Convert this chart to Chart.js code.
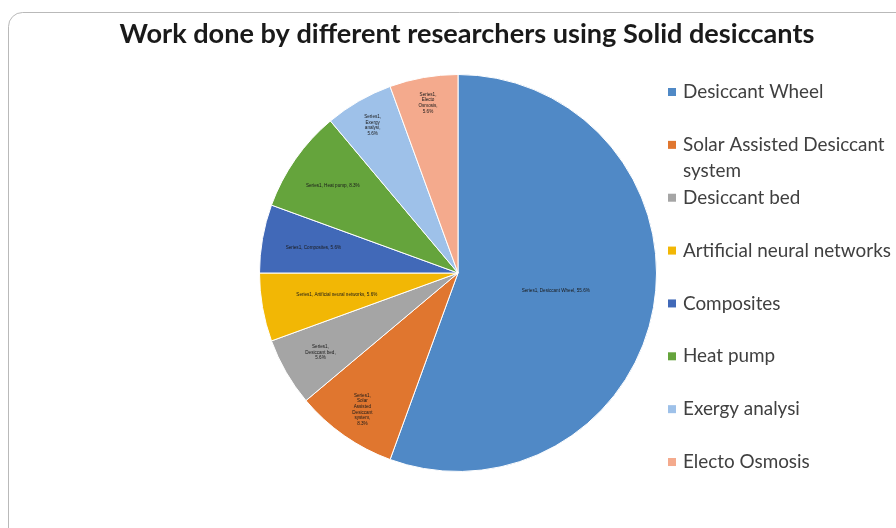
<!DOCTYPE html>
<html><head><meta charset="utf-8">
<script src="https://cdn.jsdelivr.net/npm/chart.js@4/dist/chart.umd.min.js"></script>
<style>html,body{margin:0;padding:0;background:#fff;}#wrap{width:896px;height:528px;position:relative}</style>
</head><body><div id="wrap"><canvas id="c" width="896" height="528"></canvas></div>
<script>
const chartTitle = 'Work done by different researchers using Solid desiccants';
const seriesName = 'Series1';
const categories = ['Desiccant Wheel', 'Solar Assisted Desiccant system', 'Desiccant bed', 'Artificial neural networks', 'Composites', 'Heat pump', 'Exergy analysi', 'Electo Osmosis'];
const values = [20, 3, 2, 2, 2, 3, 2, 2];
const colors = ['#5089c6', '#e0762f', '#a5a5a5', '#f2b705', '#4169b8', '#65a43c', '#9ec1e9', '#f4aa8d'];

// label layout style (not data)
const labelWrap = [null, 22, 36, null, null, null, 22, 22];
const labelRadius = [0.5, 0.84, 0.8, 0.62, 0.74, 0.77, 0.86, 0.87];

function wrapText(ctx, text, maxW) {
  if (!maxW) return [text];
  const words = text.split(' ');
  const lines = [];
  let cur = '';
  for (const w of words) {
    const t = cur ? cur + ' ' + w : w;
    if (ctx.measureText(t).width <= maxW || !cur) {
      if (!cur && ctx.measureText(w).width > maxW) {
        // break long word by characters
        let part = '';
        for (const ch of w) {
          if (ctx.measureText(part + ch).width > maxW && part) { lines.push(part); part = ch; }
          else part += ch;
        }
        cur = part;
      } else cur = t;
    } else {
      lines.push(cur);
      if (ctx.measureText(w).width > maxW) {
        let part = '';
        for (const ch of w) {
          if (ctx.measureText(part + ch).width > maxW && part) { lines.push(part); part = ch; }
          else part += ch;
        }
        cur = part;
      } else cur = w;
    }
  }
  if (cur) lines.push(cur);
  return lines;
}

const framePlugin = {
  id: 'frame',
  beforeDraw(chart) {
    const ctx = chart.ctx;
    ctx.save();
    ctx.fillStyle = '#fff';
    ctx.fillRect(0, 0, chart.width, chart.height);
    ctx.strokeStyle = '#b9b9b9';
    ctx.lineWidth = 1;
    const x = 8.5, y = 12.5, w = 920, h = 540, r = 14;
    ctx.beginPath();
    ctx.moveTo(x + r, y);
    ctx.lineTo(x + w, y);
    ctx.moveTo(x, y + r);
    ctx.lineTo(x, y + h);
    ctx.moveTo(x, y + r);
    ctx.arcTo(x, y, x + r, y, r);
    ctx.stroke();
    ctx.restore();
  }
};

const titlePlugin = {
  id: 'customTitle',
  afterDraw(chart) {
    const ctx = chart.ctx;
    ctx.save();
    let size = 25;
    ctx.font = `bold ${size}px Lato`;
    const w = ctx.measureText(chartTitle).width;
    size = size * 695 / w;
    ctx.font = `bold ${size}px Lato`;
    ctx.fillStyle = '#1a1a1a';
    ctx.textAlign = 'center';
    ctx.textBaseline = 'alphabetic';
    ctx.fillText(chartTitle, 467, 43);
    ctx.restore();
  }
};

const legendPlugin = {
  id: 'customLegend',
  afterDraw(chart) {
    const ctx = chart.ctx;
    ctx.save();
    let size = 16;
    ctx.font = `${size}px Lato`;
    const w = ctx.measureText('Artificial neural networks').width;
    size = size * 208 / w;
    ctx.font = `${size}px Lato`;
    ctx.textBaseline = 'middle';
    ctx.textAlign = 'left';
    const ds = chart.data.datasets[0];
    chart.data.labels.forEach((lab, i) => {
      const yc = 92 + i * 52.86;
      ctx.fillStyle = ds.backgroundColor[i];
      ctx.fillRect(668, yc - 4, 8, 8);
      ctx.fillStyle = '#404040';
      const lines = wrapText(ctx, lab, 210);
      lines.forEach((ln, k) => ctx.fillText(ln, 683, yc + k * 26));
    });
    ctx.restore();
  }
};

const labelsPlugin = {
  id: 'sliceLabels',
  afterDatasetsDraw(chart) {
    const ctx = chart.ctx;
    const meta = chart.getDatasetMeta(0);
    const data = chart.data.datasets[0].data;
    const total = data.reduce((a, b) => a + b, 0);
    ctx.save();
    ctx.font = '4.6px "Liberation Sans"';
    ctx.fillStyle = '#1a1a1a';
    ctx.textAlign = 'center';
    ctx.textBaseline = 'middle';
    meta.data.forEach((arc, i) => {
      const p = arc.getProps(['x', 'y', 'startAngle', 'endAngle', 'outerRadius'], true);
      const mid = (p.startAngle + p.endAngle) / 2;
      const rr = p.outerRadius * labelRadius[i];
      const cx = p.x + Math.cos(mid) * rr;
      const cy = p.y + Math.sin(mid) * rr;
      const pct = (data[i] / total * 100).toFixed(1) + '%';
      const text = `${seriesName}, ${chart.data.labels[i]}, ${pct}`;
      const lines = wrapText(ctx, text, labelWrap[i]);
      const lh = 5.6;
      lines.forEach((ln, k) => ctx.fillText(ln, cx, cy + (k - (lines.length - 1) / 2) * lh));
    });
    ctx.restore();
  }
};

new Chart(document.getElementById('c'), {
  type: 'pie',
  data: {
    labels: categories,
    datasets: [{
      label: seriesName,
      data: values,
      backgroundColor: colors,
      borderColor: '#ffffff',
      borderWidth: 1
    }]
  },
  options: {
    responsive: false,
    animation: false,
    devicePixelRatio: 1,
    layout: { padding: { top: 74, bottom: 56, left: 259, right: 239 } },
    plugins: {
      legend: { display: false },
      title: { display: false },
      tooltip: { enabled: false }
    }
  },
  plugins: [framePlugin, titlePlugin, legendPlugin, labelsPlugin]
});
</script>
</body></html>
